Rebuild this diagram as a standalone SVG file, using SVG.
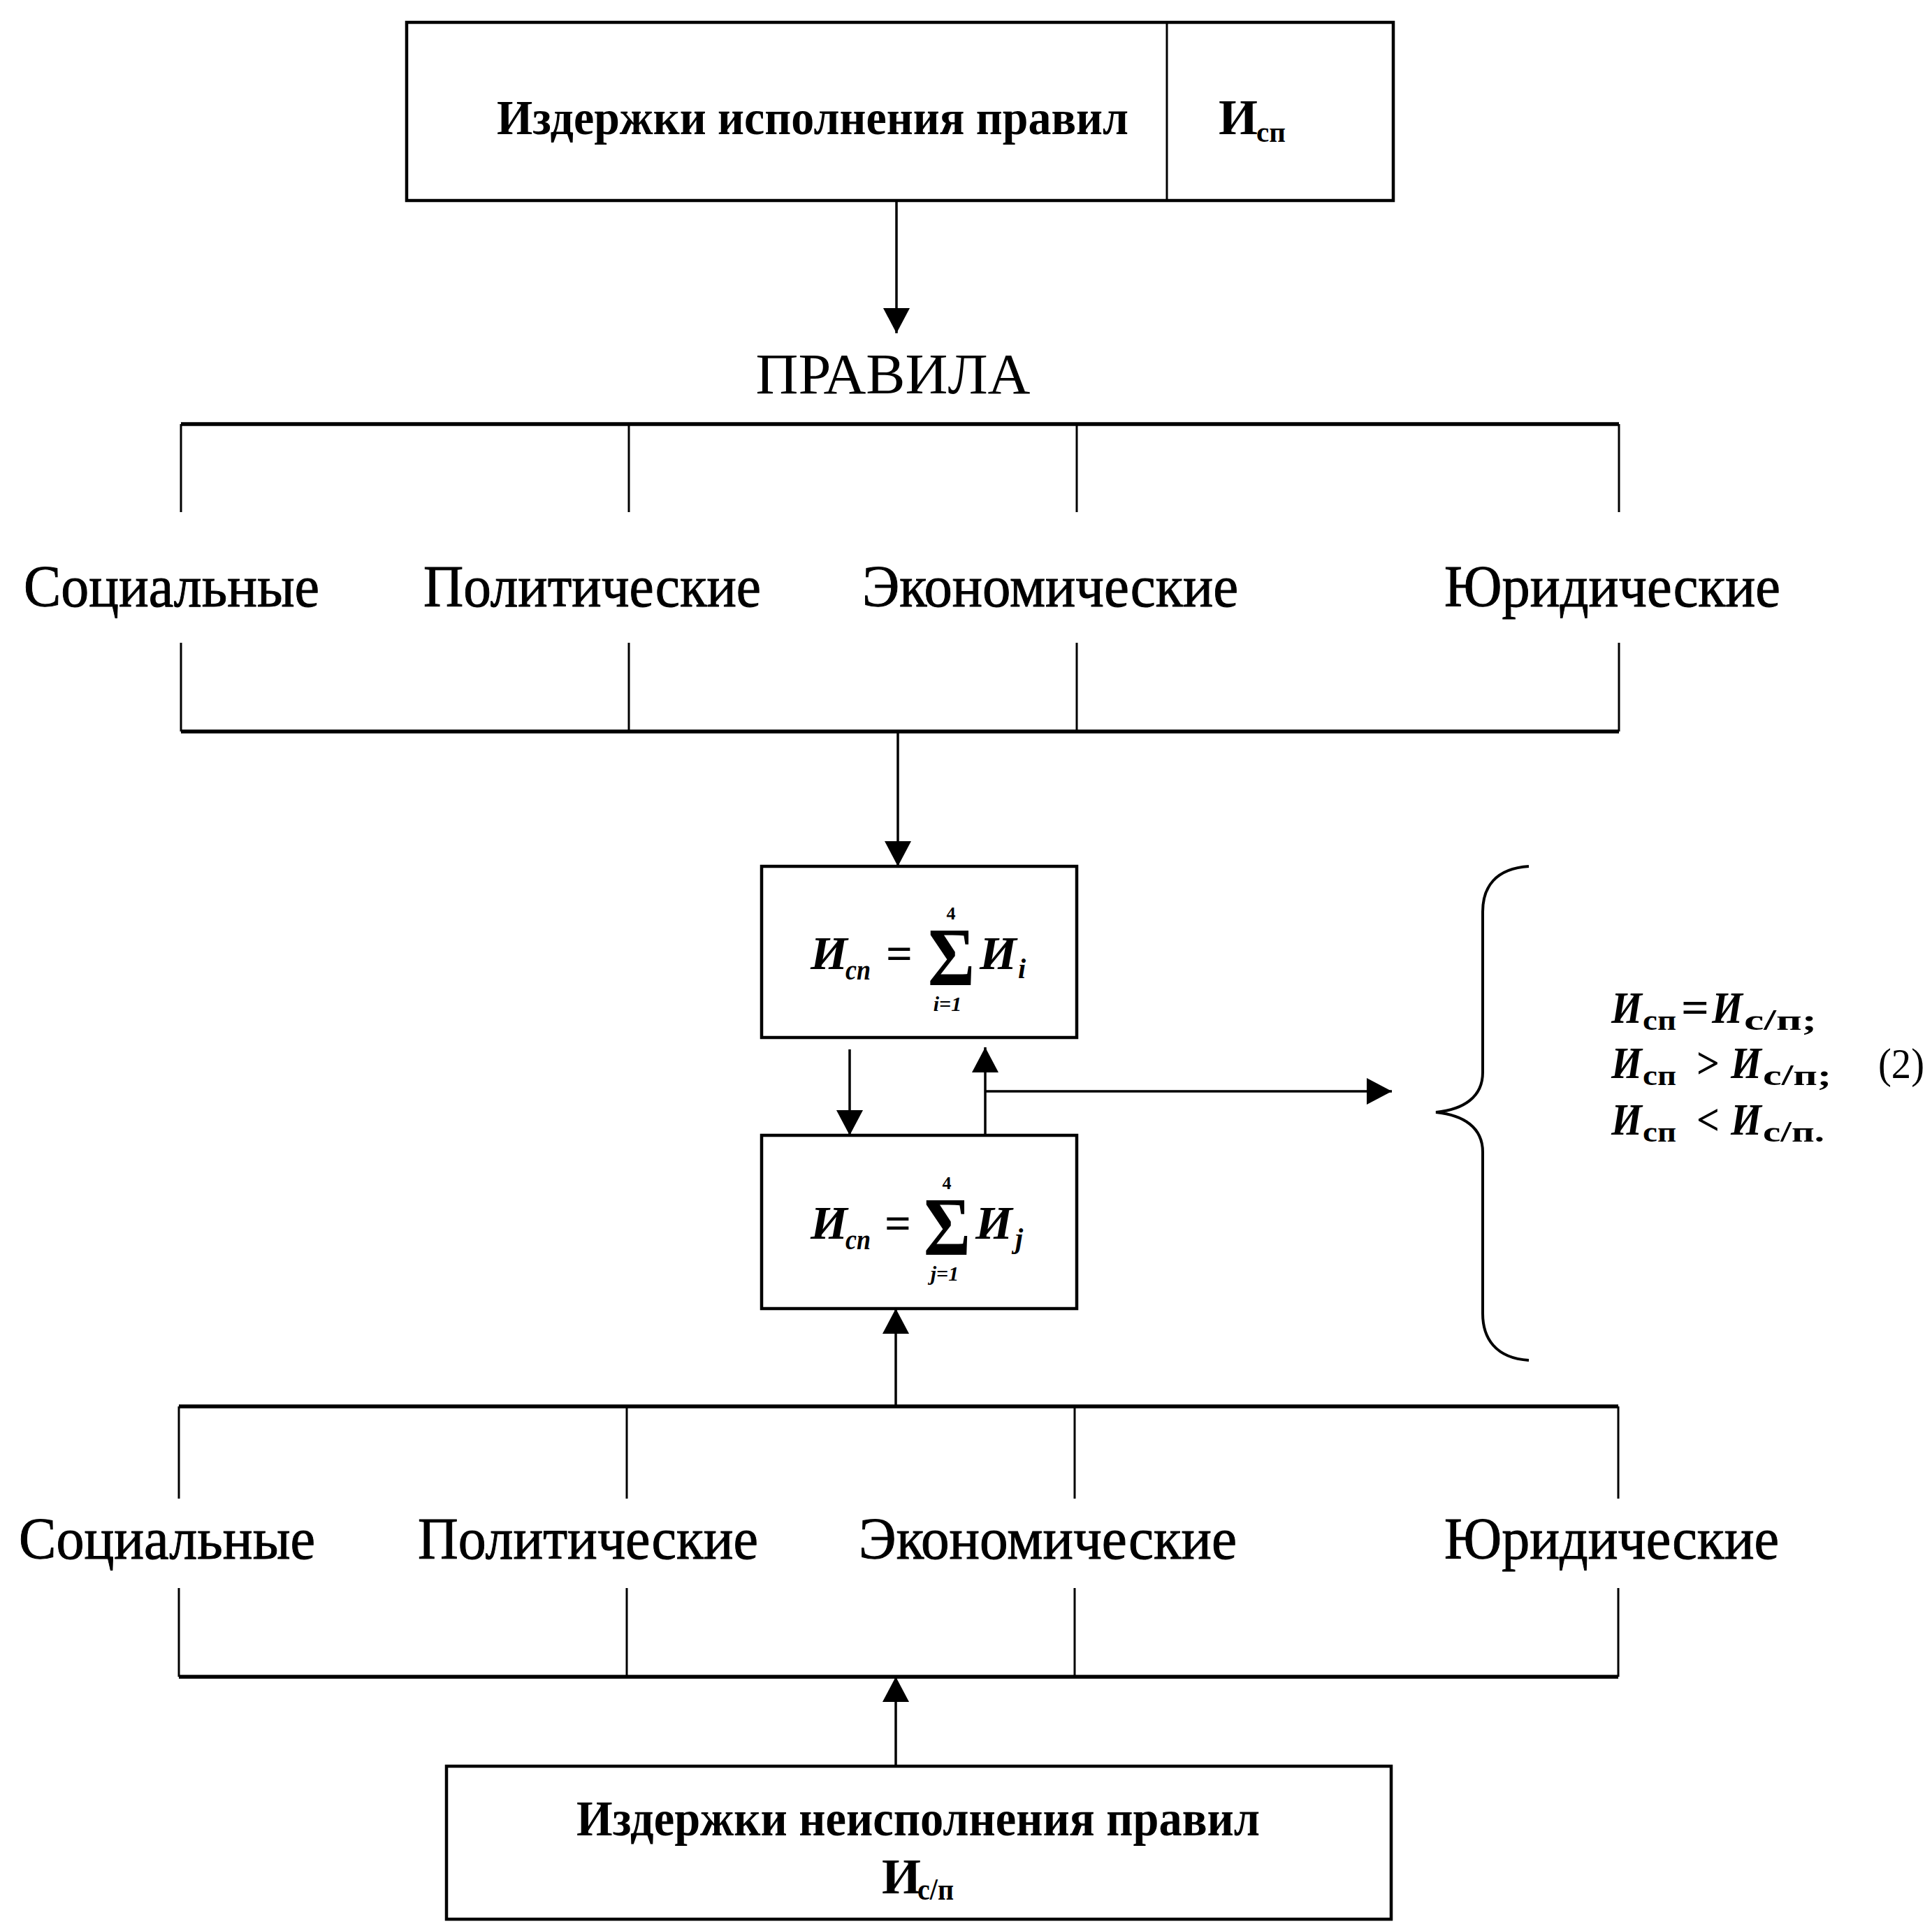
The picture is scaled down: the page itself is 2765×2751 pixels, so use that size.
<svg xmlns="http://www.w3.org/2000/svg" width="2765" height="2751" viewBox="0 0 2765 2751">
<style>
.box{fill:#fff;stroke:#000;stroke-width:4.5}
.hl{stroke:#000;stroke-width:5.5;fill:none}
.vl{stroke:#000;stroke-width:3;fill:none}
.ar{stroke:#000;stroke-width:3.5;fill:none;marker-end:url(#ah)}
.lbl{font-family:"Liberation Serif","Times New Roman",serif;font-size:84px;fill:#000;stroke:#000;stroke-width:1}
.bt{font-family:"Liberation Serif","Times New Roman",serif;font-weight:bold;fill:#000}
.mi{font-family:"Liberation Serif","Times New Roman",serif;font-weight:bold;font-style:italic;fill:#000}
.rg{font-family:"Liberation Serif","Times New Roman",serif;fill:#000}
</style>
<defs>
<marker id="ah" viewBox="0 0 36 38" refX="36" refY="19" markerWidth="36" markerHeight="38" markerUnits="userSpaceOnUse" orient="auto">
<path d="M0,0 L36,19 L0,38 Z" fill="#000"/>
</marker>
</defs>
<rect width="2765" height="2751" fill="#fff"/>

<g id="connectors">
<line class="ar" x1="1283" y1="287" x2="1283" y2="477"/>
<path class="hl" d="M259,607 H2317"/>
<path class="vl" d="M259,607 V733 M900,607 V733 M1541,607 V733 M2317,607 V733"/>
<path class="vl" d="M259,920 V1047 M900,920 V1047 M1541,920 V1047 M2317,920 V1047"/>
<path class="hl" d="M259,1047 H2317"/>
<line class="ar" x1="1285" y1="1047" x2="1285" y2="1240"/>
<line class="ar" x1="1216" y1="1502" x2="1216" y2="1625"/>
<line class="ar" x1="1410" y1="1625" x2="1410" y2="1499"/>
<line class="ar" x1="1410" y1="1562" x2="1992" y2="1562"/>
<line class="ar" x1="1282" y1="2013" x2="1282" y2="1873"/>
<path class="hl" d="M256,2013 H2316"/>
<path class="vl" d="M256,2013 V2145 M897,2013 V2145 M1538,2013 V2145 M2316,2013 V2145"/>
<path class="vl" d="M256,2273 V2400 M897,2273 V2400 M1538,2273 V2400 M2316,2273 V2400"/>
<path class="hl" d="M256,2400 H2316"/>
<line class="ar" x1="1282" y1="2528" x2="1282" y2="2400"/>
</g>

<g id="node-top">
<rect class="box" x="582" y="32" width="1412" height="255"/>
<line class="vl" x1="1670" y1="32" x2="1670" y2="287"/>
<text class="bt" x="1163" y="192" font-size="70" text-anchor="middle" textLength="904" lengthAdjust="spacingAndGlyphs">Издержки исполнения правил</text>
<text class="bt" x="1744" y="192" font-size="72">И</text>
<text class="bt" x="1798" y="203" font-size="42" textLength="42" lengthAdjust="spacingAndGlyphs">сп</text>
</g>

<g id="node-pravila">
<text class="rg" x="1278" y="563" font-size="82" text-anchor="middle" textLength="393" lengthAdjust="spacingAndGlyphs">ПРАВИЛА</text>
</g>

<g id="node-row1">
<text class="lbl" x="34" y="868" textLength="423" lengthAdjust="spacingAndGlyphs">Социальные</text>
<text class="lbl" x="606" y="868" textLength="483" lengthAdjust="spacingAndGlyphs">Политические</text>
<text class="lbl" x="1234" y="868" textLength="538" lengthAdjust="spacingAndGlyphs">Экономические</text>
<text class="lbl" x="2067" y="868" textLength="481" lengthAdjust="spacingAndGlyphs">Юридические</text>
</g>

<g id="node-sum-i">
<rect class="box" x="1090" y="1240" width="451" height="245"/>
<text class="mi" x="1160" y="1387" font-size="68">И</text>
<text class="mi" x="1210" y="1402" font-size="40" textLength="36" lengthAdjust="spacingAndGlyphs">сп</text>
<text class="bt" x="1268" y="1387" font-size="66" textLength="38" lengthAdjust="spacingAndGlyphs">=</text>
<text class="bt" x="1328" y="1410" font-size="118" textLength="67" lengthAdjust="spacingAndGlyphs">Σ</text>
<text class="bt" x="1361" y="1316" font-size="26" text-anchor="middle">4</text>
<text class="mi" x="1356" y="1447" font-size="30" text-anchor="middle">i=1</text>
<text class="mi" x="1402" y="1387" font-size="68">И</text>
<text class="mi" x="1457" y="1400" font-size="40">i</text>
</g>

<g id="node-sum-j">
<rect class="box" x="1090" y="1625" width="451" height="248"/>
<text class="mi" x="1160" y="1773" font-size="68">И</text>
<text class="mi" x="1210" y="1788" font-size="40" textLength="36" lengthAdjust="spacingAndGlyphs">сп</text>
<text class="bt" x="1266" y="1773" font-size="66" textLength="38" lengthAdjust="spacingAndGlyphs">=</text>
<text class="bt" x="1322" y="1796" font-size="118" textLength="67" lengthAdjust="spacingAndGlyphs">Σ</text>
<text class="bt" x="1355" y="1702" font-size="26" text-anchor="middle">4</text>
<text class="mi" x="1352" y="1833" font-size="30" text-anchor="middle">j=1</text>
<text class="mi" x="1396" y="1773" font-size="68">И</text>
<text class="mi" x="1453" y="1786" font-size="40">j</text>
</g>

<g id="node-brace">
<path d="M2188,1240 C2140,1243 2122,1270 2122,1305 L2122,1535 C2122,1570 2095,1588 2055,1592 C2095,1596 2122,1614 2122,1649 L2122,1880 C2122,1915 2140,1944 2188,1947" fill="none" stroke="#000" stroke-width="4"/>
</g>

<g id="node-conditions">
<text class="mi" x="2306" y="1464" font-size="64" textLength="44" lengthAdjust="spacingAndGlyphs">И</text>
<text class="bt" x="2351" y="1474" font-size="42" textLength="48" lengthAdjust="spacingAndGlyphs">сп</text>
<text class="bt" x="2406" y="1464" font-size="64" textLength="40" lengthAdjust="spacingAndGlyphs">=</text>
<text class="mi" x="2450" y="1464" font-size="64" textLength="44" lengthAdjust="spacingAndGlyphs">И</text>
<text class="bt" x="2496" y="1474" font-size="42" textLength="104" lengthAdjust="spacingAndGlyphs">с/п;</text>

<text class="mi" x="2306" y="1543" font-size="64" textLength="44" lengthAdjust="spacingAndGlyphs">И</text>
<text class="bt" x="2351" y="1553" font-size="42" textLength="48" lengthAdjust="spacingAndGlyphs">сп</text>
<text class="bt" x="2428" y="1543" font-size="64" textLength="33" lengthAdjust="spacingAndGlyphs">&gt;</text>
<text class="mi" x="2477" y="1543" font-size="64" textLength="44" lengthAdjust="spacingAndGlyphs">И</text>
<text class="bt" x="2523" y="1553" font-size="42" textLength="98" lengthAdjust="spacingAndGlyphs">с/п;</text>
<text class="rg" x="2688" y="1543" font-size="62" textLength="66" lengthAdjust="spacingAndGlyphs">(2)</text>

<text class="mi" x="2306" y="1624" font-size="64" textLength="44" lengthAdjust="spacingAndGlyphs">И</text>
<text class="bt" x="2351" y="1634" font-size="42" textLength="48" lengthAdjust="spacingAndGlyphs">сп</text>
<text class="bt" x="2428" y="1624" font-size="64" textLength="33" lengthAdjust="spacingAndGlyphs">&lt;</text>
<text class="mi" x="2477" y="1624" font-size="64" textLength="44" lengthAdjust="spacingAndGlyphs">И</text>
<text class="bt" x="2523" y="1634" font-size="42" textLength="88" lengthAdjust="spacingAndGlyphs">с/п.</text>
</g>

<g id="node-row2">
<text class="lbl" x="27" y="2231" textLength="424" lengthAdjust="spacingAndGlyphs">Социальные</text>
<text class="lbl" x="598" y="2231" textLength="487" lengthAdjust="spacingAndGlyphs">Политические</text>
<text class="lbl" x="1229" y="2231" textLength="541" lengthAdjust="spacingAndGlyphs">Экономические</text>
<text class="lbl" x="2067" y="2231" textLength="479" lengthAdjust="spacingAndGlyphs">Юридические</text>
</g>

<g id="node-bottom">
<rect class="box" x="639" y="2528" width="1352" height="219"/>
<text class="bt" x="1314" y="2627" font-size="72" text-anchor="middle" textLength="978" lengthAdjust="spacingAndGlyphs">Издержки неисполнения правил</text>
<text class="bt" x="1262" y="2710" font-size="72">И</text>
<text class="bt" x="1313" y="2719" font-size="44" textLength="52" lengthAdjust="spacingAndGlyphs">с/п</text>
</g>
</svg>
